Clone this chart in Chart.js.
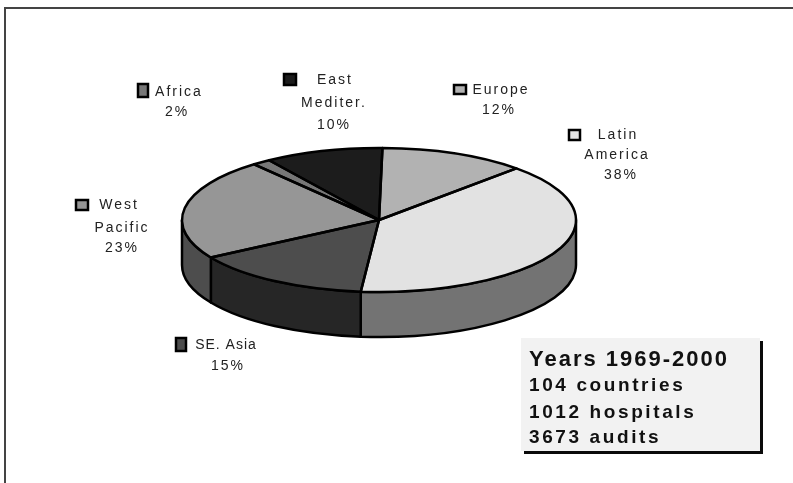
<!DOCTYPE html>
<html lang="en">

<head>
  <meta charset="UTF-8" />
  <title>Audits by region</title>
  <script src="https://cdn.jsdelivr.net/npm/chart.js"></script>
  <style>
    html, body { margin: 0; padding: 0; background: #fff; }
    canvas { display: block; }
  </style>
</head>

<body>
  <canvas id="pieChart" width="793" height="483"></canvas>

  <script>
    const regions = ["Europe", "Latin America", "SE. Asia", "West Pacific", "Africa", "East Mediter."];
    // slice sizes as measured on the picture, the printed percentages are below
    const shares = [12.0, 39.2, 14.8, 22.8, 1.5, 9.7];
    const percentLabels = ["12%", "38%", "15%", "23%", "2%", "10%"];
    const topColors = ["#b2b2b2", "#e2e2e2", "#4d4d4d", "#969696", "#777777", "#1c1c1c"];
    const sideColors = ["#595959", "#737373", "#262626", "#4d4d4d", "#3b3b3b", "#0e0e0e"];
    const boxLines = ["Years 1969-2000", "104 countries", "1012 hospitals", "3673 audits"];

    const CX = 379, CY = 220, RX = 197, RY = 72, DEPTH = 45;

    // where each label goes: key box [x, y, w, h], then text lines [text, center x, middle y, spacing]
    const labelLayout = [
      { key: [454, 85, 12, 9], lines: [["Europe", 501, 90], [percentLabels[0], 499, 110]] },
      { key: [569, 130, 11, 10], lines: [["Latin", 618, 135], ["America", 617, 155], [percentLabels[1], 621, 175]] },
      { key: [176, 338, 10, 13], lines: [["SE. Asia", 226, 345, "1px"], [percentLabels[2], 228, 366]] },
      { key: [76, 200, 12, 10], lines: [["West", 119, 205], ["Pacific", 122, 228], [percentLabels[3], 122, 248]] },
      { key: [138, 84, 10, 13], lines: [["Africa", 179, 92], [percentLabels[4], 177, 112]] },
      { key: [284, 74, 12, 11], lines: [["East", 335, 80], ["Mediter.", 334, 103], [percentLabels[5], 334, 125]] },
    ];

    // flatten the pie to an ellipse and give it a wall
    const tiltPlugin = {
      id: "tilt",
      beforeDatasetsDraw(chart) {
        const ctx = chart.ctx;
        const arcs = chart.getDatasetMeta(0).data;
        const c = arcs[0];
        const k = RY / c.outerRadius;

        // wall, front half only
        ctx.save();
        ctx.lineWidth = 2.5;
        ctx.strokeStyle = "#000";
        ctx.lineJoin = "round";
        arcs.forEach((arc, i) => {
          const from = Math.max(arc.startAngle, 0);
          const to = Math.min(arc.endAngle, Math.PI);
          if (to <= from) return;
          ctx.beginPath();
          ctx.ellipse(c.x, c.y, c.outerRadius, RY, 0, from, to);
          ctx.ellipse(c.x, c.y + DEPTH, c.outerRadius, RY, 0, to, from, true);
          ctx.closePath();
          ctx.fillStyle = sideColors[i];
          ctx.fill();
          ctx.stroke();
        });
        ctx.restore();

        ctx.save();
        ctx.translate(c.x, c.y);
        ctx.scale(1, k);
        ctx.translate(-c.x, -c.y);
      },
      afterDatasetsDraw(chart) {
        const ctx = chart.ctx;
        ctx.restore();

        const arcs = chart.getDatasetMeta(0).data;
        ctx.save();
        ctx.lineWidth = 2.5;
        ctx.strokeStyle = "#000";
        ctx.lineJoin = "round";
        arcs.forEach((arc) => {
          ctx.beginPath();
          ctx.moveTo(arc.x, arc.y);
          ctx.ellipse(arc.x, arc.y, arc.outerRadius, RY, 0, arc.startAngle, arc.endAngle);
          ctx.closePath();
          ctx.stroke();
        });
        ctx.restore();
      },
    };

    const labelsPlugin = {
      id: "pieLabels",
      afterDraw(chart) {
        const ctx = chart.ctx;
        ctx.save();

        // only the top and left edges of the frame exist
        ctx.strokeStyle = "#444";
        ctx.lineWidth = 2;
        ctx.beginPath();
        ctx.moveTo(5, 483);
        ctx.lineTo(5, 8);
        ctx.lineTo(793, 8);
        ctx.stroke();

        ctx.textBaseline = "middle";
        ctx.textAlign = "center";
        ctx.font = '14px "Liberation Sans"';
        labelLayout.forEach((label, i) => {
          const [x, y, w, h] = label.key;
          ctx.fillStyle = topColors[i];
          ctx.fillRect(x, y, w, h);
          ctx.lineWidth = 2.5;
          ctx.strokeStyle = "#000";
          ctx.strokeRect(x, y, w, h);
          ctx.fillStyle = "#222";
          label.lines.forEach(([text, x2, y2, spacing]) => {
            ctx.letterSpacing = spacing || "2px";
            ctx.fillText(text, x2, y2);
          });
        });

        // summary box with hard shadow
        ctx.fillStyle = "#0a0a0a";
        ctx.fillRect(524, 341, 239, 113);
        ctx.fillStyle = "#f2f2f2";
        ctx.fillRect(521, 338, 239, 113);
        ctx.textAlign = "left";
        ctx.textBaseline = "alphabetic";
        ctx.fillStyle = "#111";
        ctx.font = 'bold 22px "Liberation Sans"';
        ctx.letterSpacing = "2px";
        ctx.fillText(boxLines[0], 529, 366);
        ctx.font = 'bold 19px "Liberation Sans"';
        ctx.letterSpacing = "2.6px";
        ctx.fillText(boxLines[1], 529, 391);
        ctx.fillText(boxLines[2], 529, 418);
        ctx.fillText(boxLines[3], 529, 443);
        ctx.restore();
      },
    };

    new Chart(document.getElementById("pieChart").getContext("2d"), {
      type: "pie",
      data: {
        labels: regions,
        datasets: [{
          data: shares,
          backgroundColor: topColors,
          borderWidth: 0,
        }],
      },
      options: {
        responsive: false,
        animation: false,
        rotation: 1,
        layout: {
          padding: { left: CX - RX, right: 793 - CX - RX, top: CY - RX, bottom: 483 - CY - RX },
        },
        plugins: {
          legend: { display: false },
          tooltip: { enabled: false },
        },
      },
      plugins: [tiltPlugin, labelsPlugin],
    });
  </script>
</body>

</html>
